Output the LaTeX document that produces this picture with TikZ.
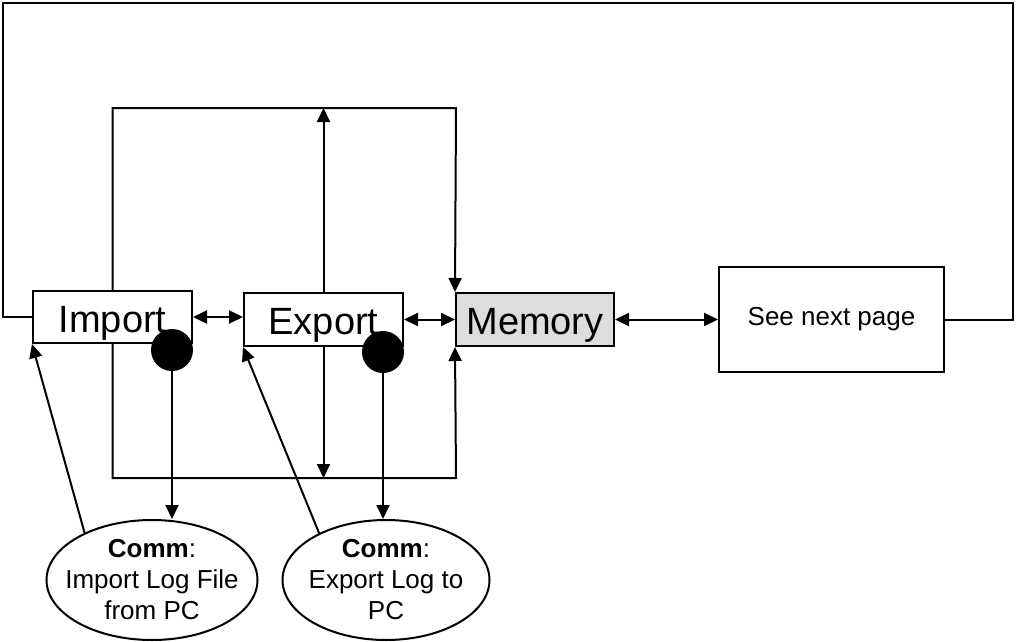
\documentclass[tikz,border=0pt]{standalone}
\usepackage{fontspec}
\setmainfont{Liberation Sans}
\usetikzlibrary{arrows.meta,shapes.geometric}
\definecolor{memfill}{HTML}{DDDDDD}
\begin{document}
\begin{tikzpicture}[x=1pt,y=-1pt,line width=2pt,
  tip/.style={-{Triangle[length=14pt,width=13pt]}},
  both/.style={{Triangle[length=14pt,width=13pt]}-{Triangle[length=14pt,width=13pt]}},
  bigbox/.style={draw,rectangle,inner sep=0pt,font=\fontsize{38}{44}\selectfont,text height=30pt,text depth=0pt},
  dot/.style={circle,fill=black,draw=black,minimum size=40pt,inner sep=0pt},
  comm/.style={draw,ellipse,inner sep=0pt}]
\useasboundingbox (0,0) rectangle (1017,642);
% boxes
\node[bigbox,minimum width=159pt,minimum height=52pt] (import) at (112.5,317) {Import};
\node[bigbox,minimum width=159pt,minimum height=53pt] (export) at (323.5,319.5) {Export};
\node[bigbox,fill=memfill,minimum width=158pt,minimum height=53pt] (memory) at (535,319.5) {Memory};
\node[draw,rectangle,inner sep=0pt,minimum width=225pt,minimum height=105pt,font=\fontsize{26}{31}\selectfont] (seenext) at (831.5,319.5) {See next page};
% dots
\node[dot] (idot) at (172,350) {};
\node[dot] (edot) at (383,352) {};
% ellipses
\node[comm,minimum width=211pt,minimum height=120pt,
  label={[align=center,font=\fontsize{26}{31}\selectfont]center:{\textbf{Comm}:\\Import Log File\\from PC}}] (impc) at (152,580) {};
\node[comm,minimum width=207pt,minimum height=120pt,
  label={[align=center,font=\fontsize{26}{31}\selectfont]center:{\textbf{Comm}:\\Export Log to\\PC}}] (expc) at (386,580) {};
% coordinates
\coordinate (tl) at (3,3);
\coordinate (tr) at (1013,3);
\coordinate (rtop) at (456,108);
\coordinate (rbot) at (456,478);
% outer loop
\draw (import.west) -| (tl) -- (tr) |- (seenext.east);
% inner frame
\draw[tip] (import.north) -- (import.north |- rtop) -- (rtop) -- (memory.north west);
\draw[tip] (import.south) -- (import.south |- rbot) -- (rbot) -- (memory.south west);
\draw[tip] (export.north) -- (export.north |- rtop);
\draw[tip] (export.south) -- (export.south |- rbot);
% horizontal double arrows
\draw[both] (import.east) -- (import.east -| export.west);
\draw[both] (export.east) -- (memory.west);
\draw[both] (memory.east) -- (seenext.west);
% dots to comm
\draw[tip] (idot.south) -- (idot.south |- impc.north);
\draw[tip] (edot.south) -- (edot.south |- expc.north);
% comm to boxes
\draw[tip] (impc.145) -- (import.south west);
\draw[tip] (expc.145) -- (export.south west);
\end{tikzpicture}
\end{document}
